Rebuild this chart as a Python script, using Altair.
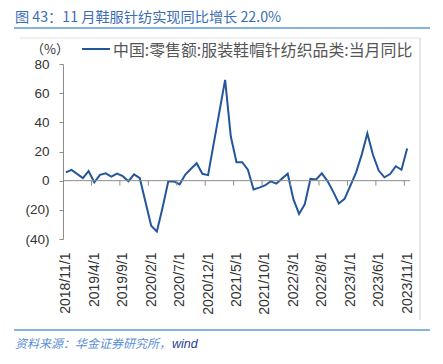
import altair as alt
import pandas as pd

# ---- data ----
months = []
y, m = 2018, 11
for _ in range(61):
    months.append(f"{y}/{m}/1")
    m += 1
    if m > 12:
        m = 1
        y += 1

values = [5.7, 7.4, None, 1.8, 6.6, -1.1, 4.0, 5.0, 2.8, 4.9, 3.1, -0.4, 4.3, 1.7,
          None, -30.9, -34.8, -18.5, -0.6, -0.4, -2.5, 4.2, 8.2, 12.0, 4.7, 3.8,
          None, None, 69.1, 30.3, 12.6, 12.7, 7.5, -6.0, -4.8, -3.3, -0.5, -2.0,
          None, 4.8, -12.7, -22.8, -16.2, 1.2, 0.8, 5.0, -0.3, -7.5, -15.6, -12.5,
          None, 5.4, 17.7, 32.4, 17.6, 6.9, 2.3, 4.5, 9.9, 7.5, 22.0]

tick_label_idx = list(range(0, 61, 5))
y_ticks = [-40, -20, 0, 20, 40, 60, 80]

title_text = "图 43：11 月鞋服针纺实现同比增长 22.0%"
legend_text = "中国:零售额:服装鞋帽针纺织品类:当月同比"
unit_text = "（%）"
source_text = "资料来源：华金证券研究所，"
source_text2 = "wind"

df = pd.DataFrame({"i": list(range(61)), "month": months, "v": values}).dropna()
ticks_df = pd.DataFrame({"t": [i - 0.5 for i in tick_label_idx if i > 0]})
ticks_df["y0"] = 0.0
ticks_df["y1"] = -3.4

label_arr = "[" + ",".join(f"'{s}'" for s in months) + "]"

CJK = "Noto Sans CJK SC"
NUM = "Liberation Sans"
LINE = "#24569b"
GREY = "#8c8c8c"

xscale = alt.Scale(domain=[-0.5, 60.5], nice=False, zero=False)
yscale = alt.Scale(domain=[-40, 80], nice=False, zero=False)

xaxis = alt.Axis(values=tick_label_idx, labelExpr=f"{label_arr}[datum.value]",
                 labelAngle=270, labelAlign="right", labelBaseline="middle",
                 domain=False, ticks=False, tickSize=0, grid=False, title=None,
                 labelPadding=13, labelFont=NUM, labelFontSize=14,
                 labelColor="#333333", labelOverlap=False, labelBound=False,
                 labelFlush=False)
yaxis = alt.Axis(values=y_ticks,
                 labelExpr="datum.value < 0 ? '(' + abs(datum.value) + ')' : datum.value + '\u2004'",
                 domainColor=GREY, tickColor=GREY, tickSize=4, grid=False,
                 title=None, labelPadding=10, labelFont=NUM, labelFontSize=13.5,
                 labelColor="#333333", labelOverlap=False, labelBound=False,
                 labelFlush=False)

line = alt.Chart(df).mark_line(color=LINE, strokeWidth=2).encode(
    x=alt.X("i:Q", scale=xscale, axis=xaxis),
    y=alt.Y("v:Q", scale=yscale, axis=yaxis),
)

zero = alt.Chart(pd.DataFrame({"z": [0]})).mark_rule(color=GREY, strokeWidth=1).encode(
    y=alt.Y("z:Q", scale=yscale, axis=yaxis))

xticks = alt.Chart(ticks_df).mark_rule(color=GREY, strokeWidth=1).encode(
    x=alt.X("t:Q", scale=xscale, axis=xaxis),
    y=alt.Y("y0:Q", scale=yscale, axis=yaxis),
    y2="y1:Q",
)

one = pd.DataFrame({"a": [0]})

def txt(text, x, y, **kw):
    return alt.Chart(pd.DataFrame({"s": [text]})).mark_text(**kw).encode(
        text="s:N", x=alt.value(x), y=alt.value(y))

def hrule(x1, x2, y, color, w):
    return alt.Chart(one).mark_rule(color=color, strokeWidth=w).encode(
        x=alt.value(x1), x2=alt.value(x2), y=alt.value(y))

def vrule(x, y1, y2, color, w):
    return alt.Chart(one).mark_rule(color=color, strokeWidth=w).encode(
        x=alt.value(x), y=alt.value(y1), y2=alt.value(y2))

title = txt(title_text, -48, -46, align="left", baseline="middle", font=CJK,
            fontSize=14.2, color="#3b6cb4")
title_line = hrule(-49, 367, -36, "#5b9bd5", 1.5)
top_border = hrule(-43, 357, -26, "#e3e3e3", 1)
right_border = vrule(357, -26, 256, "#d0d0d0", 1)
unit = txt(unit_text, -13, -14, align="center", baseline="middle", font=CJK,
           fontSize=13, color="#333333")
leg_line = hrule(19, 47, -15, LINE, 2)
leg_text = txt(legend_text, 50, -13, align="left", baseline="middle", font=CJK,
               fontSize=15.9, color="#555555")
foot_line = hrule(-49, 367, 266, "#5b9bd5", 1.5)
foot1 = txt(source_text, -48, 280, align="left", baseline="middle", font=CJK,
            fontSize=12, fontStyle="italic", color="#5b8fd6")
foot2 = txt(source_text2, 109, 280, align="left", baseline="middle", font=NUM,
            fontSize=12.5, fontStyle="italic", color="#1f3f8f")

chart = alt.layer(
    line, zero, xticks, title, title_line, top_border, right_border, unit,
    leg_line, leg_text, foot_line, foot1, foot2
).properties(
    width=347, height=175,
    autosize=alt.AutoSizeParams(type="none"),
    padding={"left": 55, "top": 56, "right": 21, "bottom": 117},
).configure_view(stroke=None)

chart.save("out.html", embed_options={"renderer": "svg", "actions": False})
